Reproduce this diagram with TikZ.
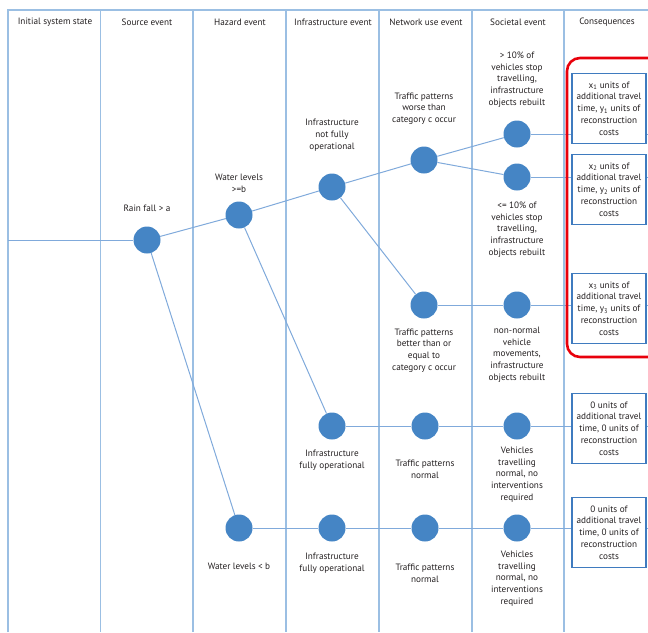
\documentclass[tikz,border=0pt]{standalone}
\usepackage{fontspec}
\setmainfont{PT Sans}
\definecolor{gridblue}{HTML}{9BBFE3}
\definecolor{linkblue}{HTML}{80AADB}
\definecolor{dotblue}{HTML}{4585C5}
\definecolor{boxblue}{HTML}{3F7BBF}
\definecolor{textgray}{HTML}{231F20}
\definecolor{alertred}{HTML}{E8000B}

\begin{document}
\begin{tikzpicture}[x=1pt,y=-1pt,
    dot/.style={circle,fill=dotblue,minimum size=27pt,inner sep=0pt},
    lbl/.style={align=center,text=textgray,font=\fontsize{9.2}{11.75}\selectfont},
    head/.style={text=textgray,font=\fontsize{9.2}{10}\selectfont},
    cons/.style={draw=boxblue,line width=1.3pt,fill=white,minimum width=74pt,
        minimum height=70pt,inner sep=1pt,align=center,text=textgray,
        font=\fontsize{9.2}{11.75}\selectfont},
    link/.style={draw=linkblue,line width=1pt}]
    \useasboundingbox (0,0) rectangle (648,632);
    \clip (0,0) rectangle (648,632);

    % columns
    \draw[gridblue,line width=1.2pt] (8,632) -- (8,10) -- (648,10);
    \draw[gridblue,line width=1.2pt] (100.5,10) -- (100.5,632) (193,10) -- (193,632)
        (286,10) -- (286,632) (379,10) -- (379,632) (472,10) -- (472,632)
        (564,10) -- (564,632);
    \node[head] (h1) at (55,22) {Initial system state};
    \node[head] (h2) at (147,22) {Source event};
    \node[head] (h3) at (240,22) {Hazard event};
    \node[head] (h4) at (333,22) {Infrastructure event};
    \node[head] (h5) at (426,22) {Network use event};
    \node[head] (h6) at (518,22) {Societal event};
    \node[head] (h7) at (607,22) {Consequences};

    % event tree
    \coordinate (start) at (8,240);
    \coordinate (edge) at (648,0);
    \node[dot] (rain) at (147,240) {};
    \node[dot] (wetup) at (239,215) {};
    \node[dot] (wetlow) at (239,528) {};
    \node[dot] (infdown) at (332,187) {};
    \node[dot] (infup) at (332,426) {};
    \node[dot] (infup2) at (332,528) {};
    \node[dot] (trworse) at (424,160) {};
    \node[dot] (trbetter) at (424,305) {};
    \node[dot] (trnorm) at (425,426) {};
    \node[dot] (trnorm2) at (425,528) {};
    \node[dot] (socmore) at (517,134) {};
    \node[dot] (socless) at (517,177) {};
    \node[dot] (socabn) at (517,305) {};
    \node[dot] (socnorm) at (517,426) {};
    \node[dot] (socnorm2) at (517,528) {};

    \draw[link] (start) -- (rain);
    \draw[link] (rain) -- (wetup);
    \draw[link] (rain) -- (wetlow);
    \draw[link] (wetup) -- (infdown);
    \draw[link] (wetup) -- (infup);
    \draw[link] (wetlow) -- (infup2);
    \draw[link] (infdown) -- (trworse);
    \draw[link] (infdown) -- (trbetter);
    \draw[link] (infup) -- (trnorm);
    \draw[link] (infup2) -- (trnorm2);
    \draw[link] (trworse) -- (socmore);
    \draw[link] (trworse) -- (socless);
    \draw[link] (trbetter) -- (socabn);
    \draw[link] (trnorm) -- (socnorm);
    \draw[link] (trnorm2) -- (socnorm2);
    \draw[link] (socmore) -- (socmore -| edge);
    \draw[link] (socless) -- (socless -| edge);
    \draw[link] (socabn) -- (socabn -| edge);
    \draw[link] (socnorm) -- (socnorm -| edge);
    \draw[link] (socnorm2) -- (socnorm2 -| edge);

    % labels
    \node[lbl] (rainlbl) at (147,208) {Rain fall > a};
    \node[lbl] (wetuplbl) at (239,183.5) {Water levels\\>=b};
    \node[lbl] (wetlowlbl) at (239,566) {Water levels < b};
    \node[lbl] (infdownlbl) at (332,135) {Infrastructure\\not fully\\operational};
    \node[lbl] (infuplbl) at (332,460) {Infrastructure\\fully operational};
    \node[lbl] (infup2lbl) at (332,563) {Infrastructure\\fully operational};
    \node[lbl] (trworselbl) at (424,108.5) {Traffic patterns\\worse than\\category c occur};
    \node[lbl] (trbetterlbl) at (424,350.5) {Traffic patterns\\better than or\\equal to\\category c occur};
    \node[lbl] (trnormlbl) at (425,469) {Traffic patterns\\normal};
    \node[lbl] (trnorm2lbl) at (425,573) {Traffic patterns\\normal};
    \node[lbl] (socmorelbl) at (517,79.5) {> 10\% of\\vehicles stop\\travelling,\\infrastructure\\objects rebuilt};
    \node[lbl] (socesslbl) at (517,229.5) {<= 10\% of\\vehicles stop\\travelling,\\infrastructure\\objects rebuilt};
    \node[lbl] (socabnlbl) at (517,354.5) {non-normal\\vehicle\\movements,\\infrastructure\\objects rebuilt};
    \node[lbl] (socnormlbl) at (517,474.5) {Vehicles\\travelling\\normal, no\\interventions\\required};
    \node[lbl] (socnorm2lbl) at (517,578.5) {Vehicles\\travelling\\normal, no\\interventions\\required};

    % consequences
    \node[cons] (cona) at (609,108.5) {x\textsubscript{1} units of\\additional travel\\time, y\textsubscript{1} units of\\reconstruction\\costs};
    \node[cons] (conb) at (609,189.5) {x\textsubscript{2} units of\\additional travel\\time, y\textsubscript{2} units of\\reconstruction\\costs};
    \node[cons] (conc) at (609,308.5) {x\textsubscript{3} units of\\additional travel\\time, y\textsubscript{3} units of\\reconstruction\\costs};
    \node[cons] (cond) at (609,428.5) {0 units of\\additional travel\\time, 0 units of\\reconstruction\\costs};
    \node[cons] (cone) at (609,532.5) {0 units of\\additional travel\\time, 0 units of\\reconstruction\\costs};
    \draw[alertred,line width=2.6pt,rounded corners=13pt] (567,58) rectangle (664,357);
\end{tikzpicture}
\end{document}
